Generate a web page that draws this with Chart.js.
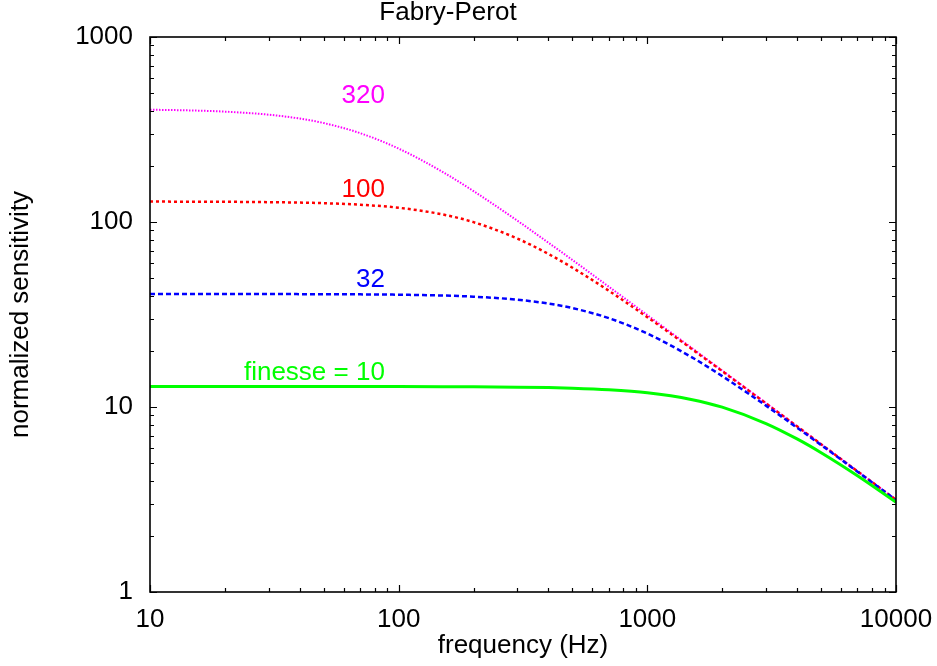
<!DOCTYPE html>
<html>
<head>
<meta charset="utf-8">
<script src="https://cdn.jsdelivr.net/npm/chart.js@4/dist/chart.umd.min.js"></script>
<style>
  body { margin: 0; background: #fff; }
</style>
</head>
<body>
<canvas id="grafico" width="937" height="666"></canvas>
<script>
// frequency samples (Hz) and sensitivity
var freq = [10, 15, 20, 30, 40, 50, 70, 100, 150, 200, 300, 400, 500, 700, 1000, 1500, 2000, 3000, 4000, 5000, 7000, 10000];
var finesse10  = [12.9, 12.9, 12.9, 12.9, 12.9, 12.9, 12.89, 12.89, 12.88, 12.86, 12.8, 12.73, 12.64, 12.4, 11.94, 10.99, 9.98, 8.14, 6.72, 5.66, 4.25, 3.06];
var finesse32  = [40.8, 40.79, 40.79, 40.77, 40.75, 40.72, 40.63, 40.46, 40.05, 39.49, 38.03, 36.23, 34.25, 30.22, 24.93, 18.67, 14.69, 10.17, 7.73, 6.23, 4.47, 3.14];
var finesse100 = [128.9, 128.8, 128.6, 128.0, 127.3, 126.4, 124.0, 119.4, 109.9, 99.8, 81.4, 67.2, 56.6, 42.5, 30.6, 20.71, 15.62, 10.46, 7.86, 6.29, 4.49, 3.15];
var finesse320 = [404.6, 400.5, 395.0, 380.3, 362.3, 342.5, 302.2, 249.3, 186.7, 146.9, 101.7, 77.3, 62.3, 44.7, 31.4, 20.97, 15.74, 10.5, 7.87, 6.3, 4.5, 3.15];

var xTicks = [10, 100, 1000, 10000];
var yTicks = [1, 10, 100, 1000];

// curve labels: text, right edge (Hz), baseline (sensitivity)
var labelTexts = ['320', '100', '32', 'finesse = 10'];
var labelX = [88, 88, 88, 88];
var labelY = [440, 136.5, 44.5, 14.0];
var labelColors = ['#ff00ff', '#ff0000', '#0000ff', '#00ff00'];

var FONT = 'Liberation Sans, Arial, Helvetica, sans-serif';

function pts(vals) {
	return freq.map(function (f, i) { return { x: f, y: vals[i] }; });
}

// frame with inward ticks on all four sides
var frame = {
	id: 'frame',
	afterDatasetsDraw: function (chart) {
		var ctx = chart.ctx, a = chart.chartArea;
		var sx = chart.scales.x, sy = chart.scales.y;
		ctx.save();
		ctx.strokeStyle = '#000';
		ctx.lineWidth = 1.2;
		ctx.beginPath();
		for (var d = 10; d <= 10000; d *= 10) {
			for (var k = 1; k < 10; k++) {
				var v = d * k;
				if (v > 10000) break;
				var px = Math.round(sx.getPixelForValue(v)) + 0.5;
				var len = k === 1 ? 7 : 4;
				ctx.moveTo(px, a.bottom); ctx.lineTo(px, a.bottom - len);
				ctx.moveTo(px, a.top); ctx.lineTo(px, a.top + len);
			}
		}
		for (var d2 = 1; d2 <= 1000; d2 *= 10) {
			for (var k2 = 1; k2 < 10; k2++) {
				var v2 = d2 * k2;
				if (v2 > 1000) break;
				var py = Math.round(sy.getPixelForValue(v2)) + 0.5;
				var len2 = k2 === 1 ? 7 : 4;
				ctx.moveTo(a.left, py); ctx.lineTo(a.left + len2, py);
				ctx.moveTo(a.right, py); ctx.lineTo(a.right - len2, py);
			}
		}
		ctx.stroke();
		ctx.lineWidth = 1.6;
		ctx.strokeRect(a.left, a.top, a.right - a.left, a.bottom - a.top);

		ctx.font = '26px ' + FONT;
		ctx.textAlign = 'right';
		ctx.textBaseline = 'alphabetic';
		for (var i = 0; i < labelTexts.length; i++) {
			ctx.fillStyle = labelColors[i];
			ctx.fillText(labelTexts[i], sx.getPixelForValue(labelX[i]), sy.getPixelForValue(labelY[i]));
		}
		ctx.restore();
	}
};

var canvas = document.getElementById('grafico');

var grafico = new Chart(canvas, {
	type: 'line',
	data: {
		datasets: [{
			label: 'finesse = 10',
			data: pts(finesse10),
			borderColor: '#00ff00',
			borderWidth: 3
		}, {
			label: '32',
			data: pts(finesse32),
			borderColor: '#0000ff',
			borderWidth: 2.5,
			borderDash: [5, 3]
		}, {
			label: '100',
			data: pts(finesse100),
			borderColor: '#ff0000',
			borderWidth: 2.5,
			borderDash: [3, 3]
		}, {
			label: '320',
			data: pts(finesse320),
			borderColor: '#ff00ff',
			borderWidth: 2,
			borderDash: [1.5, 1.5]
		}]
	},
	options: {
		responsive: false,
		animation: false,
		layout: { padding: { left: 0, right: 41, top: 0, bottom: 0 } },
		elements: {
			point: { radius: 0 },
			line: { cubicInterpolationMode: 'monotone', fill: false }
		},
		plugins: {
			legend: { display: false },
			tooltip: { enabled: false },
			title: {
				display: true,
				text: 'Fabry-Perot',
				color: '#000',
				font: { family: FONT, size: 26, weight: 'normal', lineHeight: 1 },
				padding: { top: 0, bottom: 11 }
			}
		},
		scales: {
			x: {
				type: 'logarithmic',
				min: 10,
				max: 10000,
				grid: { display: false, drawTicks: false },
				border: { display: false },
				afterBuildTicks: function (s) { s.ticks = xTicks.map(function (v) { return { value: v }; }); },
				afterFit: function (s) { s.height = 74; s.paddingLeft = 0; s.paddingRight = 0; },
				ticks: {
					autoSkip: false,
					maxRotation: 0,
					padding: 12,
					color: '#000',
					font: { family: FONT, size: 26 },
					callback: function (v) { return String(v); }
				},
				title: {
					display: true,
					text: 'frequency (Hz)',
					color: '#000',
					font: { family: FONT, size: 26 },
					padding: { top: 0, bottom: 5 }
				}
			},
			y: {
				type: 'logarithmic',
				min: 1,
				max: 1000,
				grid: { display: false, drawTicks: false },
				border: { display: false },
				afterBuildTicks: function (s) { s.ticks = yTicks.map(function (v) { return { value: v }; }); },
				afterFit: function (s) { s.width = 150; s.paddingTop = 0; s.paddingBottom = 0; },
				ticks: {
					autoSkip: false,
					padding: 17,
					color: '#000',
					font: { family: FONT, size: 26 },
					callback: function (v) { return String(v); }
				},
				title: {
					display: true,
					text: 'normalized sensitivity',
					color: '#000',
					font: { family: FONT, size: 26 },
					padding: { top: 5, bottom: 0 }
				}
			}
		}
	},
	plugins: [frame]
});
</script>
</body>
</html>
